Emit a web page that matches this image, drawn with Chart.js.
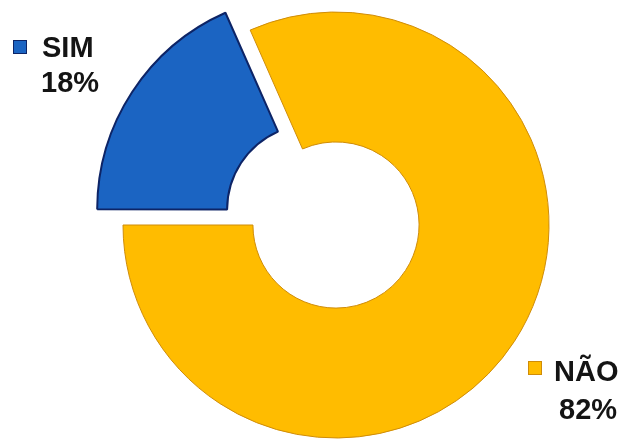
<!DOCTYPE html>
<html>
<head>
<meta charset="utf-8">
<script src="https://cdn.jsdelivr.net/npm/chart.js@4.4.1/dist/chart.umd.min.js"></script>
<style>
  html, body { margin: 0; padding: 0; background: #ffffff; }
  #wrap { position: relative; width: 623px; height: 439px; overflow: hidden; }
  canvas { position: absolute; left: 0; top: 0; }
  .lbl { position: absolute; font-family: "Liberation Sans", Arial, sans-serif; font-weight: bold;
         font-size: 29px; line-height: 29px; color: #141414; white-space: nowrap; }
  .mk { position: absolute; width: 12px; height: 12px; border: 1px solid; }
</style>
</head>
<body>
<div id="wrap">
  <canvas id="c" width="623" height="439"></canvas>
  <div class="mk" id="mk0"></div>
  <div class="lbl" id="l0a"></div>
  <div class="lbl" id="l0b"></div>
  <div class="mk" id="mk1"></div>
  <div class="lbl" id="l1a"></div>
  <div class="lbl" id="l1b"></div>
</div>
<script>
const categories = ["SIM", "NÃO"];
const values = [18.4, 81.6];
const percentLabels = ["18%", "82%"];
const fillColors = ["#1b64c2", "#ffbc00"];
const borderColors = ["#0d2466", "#cf8c08"];

const chart = new Chart(document.getElementById('c'), {
  type: 'doughnut',
  data: {
    labels: categories,
    datasets: [{
      data: values,
      backgroundColor: fillColors,
      borderColor: borderColors,
      borderWidth: [2, 1],
      offset: [112, 0],
      hoverOffset: 0,
      borderJoinStyle: 'bevel'
    }]
  },
  options: {
    responsive: false,
    animation: false,
    rotation: 270,
    cutout: '39%',
    radius: 213,
    layout: { padding: { left: 49, right: 0, top: 11, bottom: 0 } },
    plugins: { legend: { display: false }, tooltip: { enabled: false } },
    events: []
  }
});

// labels (real text)
function place(id, text, left, top) {
  const el = document.getElementById(id);
  el.textContent = text;
  el.style.left = left + 'px';
  el.style.top = top + 'px';
}
function marker(id, i, left, top) {
  const el = document.getElementById(id);
  el.style.left = left + 'px';
  el.style.top = top + 'px';
  el.style.background = fillColors[i];
  el.style.borderColor = borderColors[i];
}
marker('mk0', 0, 13, 40);
place('l0a', categories[0], 42, 33);
place('l0b', percentLabels[0], 41, 68);
marker('mk1', 1, 528, 361);
place('l1a', categories[1], 554, 357);
place('l1b', percentLabels[1], 559, 395);
</script>
</body>
</html>
